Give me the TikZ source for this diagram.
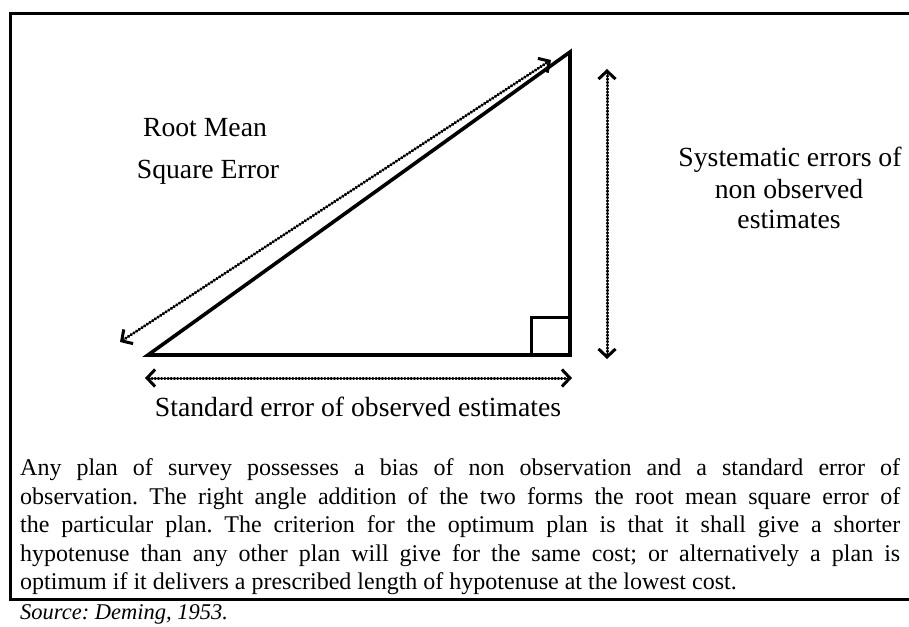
\documentclass[tikz,border=0pt]{standalone}
\usepackage{fontspec}
\setmainfont{Liberation Serif}
\usetikzlibrary{arrows.meta}
\begin{document}
\frenchspacing
\begin{tikzpicture}[x=1pt,y=-1pt,
  frame/.style={line width=3pt},
  tri/.style={line width=3.6pt, line join=miter},
  barb/.tip={Straight Barb[length=8pt,width=17pt,line width=3pt]},
  dimarrow/.style={line width=3pt, line cap=round, dash pattern=on 0.6pt off 2.6pt, barb-barb},
  lbl/.style={font=\fontsize{27.7}{32}\selectfont, inner sep=0pt, anchor=base},
  para/.style={font=\fontsize{24}{29}\selectfont, inner sep=0pt, anchor=base west}]
\useasboundingbox (0,0) rectangle (909,626);
% frame (open to the right)
\coordinate (f1) at (912,14);
\coordinate (f2) at (10,14);
\coordinate (f3) at (10,599);
\coordinate (f4) at (912,599);
\draw[frame] (f1) -- (f2) -- (f3) -- (f4);
% triangle
\coordinate (A) at (148,355);
\coordinate (B) at (570,355);
\coordinate (C) at (570,52);
\draw[tri] (A) -- (B) -- (C) -- cycle;
\coordinate (q1) at (531,355);
\coordinate (q2) at (531,317);
\coordinate (q3) at (570,317);
\draw[line width=3pt] (q1) -- (q2) -- (q3);
% dimension arrows
\coordinate (h1) at (120,342);
\coordinate (h2) at (551,60);
\draw[dimarrow] (h1) -- (h2);
\coordinate (v1) at (607,69);
\coordinate (v2) at (607,359);
\draw[dimarrow] (v1) -- (v2);
\coordinate (b1) at (145,378);
\coordinate (b2) at (572,378);
\draw[dimarrow] (b1) -- (b2);
% labels
\node[lbl] (rm1) at (205,136) {Root Mean};
\node[lbl] (rm2) at (208,178) {Square Error};
\node[lbl] (se1) at (790,166) {Systematic errors of};
\node[lbl] (se2) at (789,198) {non observed};
\node[lbl] (se3) at (789,228) {estimates};
\node[lbl] (std) at (358,416) {Standard error of observed estimates};
% paragraph
\node[para] (p1) at (20,475) {\makebox[880pt][s]{Any plan of survey possesses a bias of non observation and a standard error of}};
\node[para] (p2) at (20,504) {\makebox[880pt][s]{observation. The right angle addition of the two forms the root mean square error of}};
\node[para] (p3) at (20,532.5) {\makebox[880pt][s]{the particular plan. The criterion for the optimum plan is that it shall give a shorter}};
\node[para] (p4) at (20,561) {\makebox[880pt][s]{hypotenuse than any other plan will give for the same cost; or alternatively a plan is}};
\node[para] (p5) at (20,589) {optimum if it delivers a prescribed length of hypotenuse at the lowest cost.};
\node[para, font=\fontsize{22.5}{26}\selectfont\itshape] (src) at (20,619) {Source: Deming, 1953.};
\end{tikzpicture}
\end{document}
